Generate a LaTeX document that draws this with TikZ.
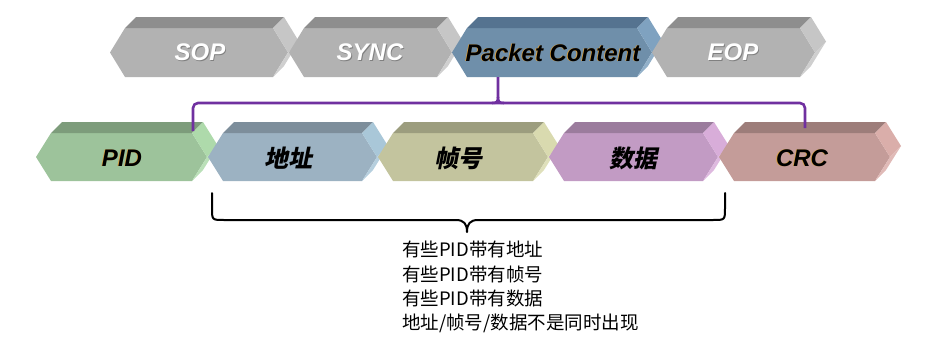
\documentclass[tikz,border=0pt]{standalone}
\usepackage{fontspec}
\setmainfont{Liberation Sans}
\newfontfamily\cjk{Noto Sans CJK SC}
\newfontfamily\cjkbi[FakeSlant=0.2]{Noto Sans CJK SC}
\usetikzlibrary{calc}

\definecolor{grF}{HTML}{B2B2B2}\definecolor{grT}{HTML}{8E8E8E}\definecolor{grS}{HTML}{C6C6C6}
\definecolor{pcF}{HTML}{6F8FAA}\definecolor{pcT}{HTML}{557390}\definecolor{pcS}{HTML}{7FA2C0}
\definecolor{piF}{HTML}{9DC39B}\definecolor{piT}{HTML}{7D9C7B}\definecolor{piS}{HTML}{AEDAAB}
\definecolor{adF}{HTML}{9CB2C2}\definecolor{adT}{HTML}{7D8E9B}\definecolor{adS}{HTML}{A9C7D8}
\definecolor{frF}{HTML}{C3C49E}\definecolor{frT}{HTML}{9C9D7E}\definecolor{frS}{HTML}{D9DAAF}
\definecolor{daF}{HTML}{C29BC4}\definecolor{daT}{HTML}{9B7C9D}\definecolor{daS}{HTML}{D8ADD9}
\definecolor{crF}{HTML}{C49C99}\definecolor{crT}{HTML}{9D7D7A}\definecolor{crS}{HTML}{DAAEAA}
\definecolor{purp}{HTML}{7030A0}
\definecolor{shOr}{HTML}{D9A040}

% #1 colour prefix, #2 left tip x, #3 right tip x, #4 middle y, #5 half height
\newcommand{\hexblk}[5]{%
  \fill[#1F] (#2,#4) -- ({#2+15},{#4-#5}) -- ({#3-15},{#4-#5}) -- (#3,#4)
     -- ({#3-15},{#4+#5}) -- ({#2+15},{#4+#5}) -- cycle;
  \fill[#1T] ({#2+15},{#4-#5}) -- ({#2+26},{#4-#5-11}) -- ({#3-4},{#4-#5-11})
     -- ({#3-15},{#4-#5}) -- cycle;
  \fill[#1S] ({#3-15},{#4-#5}) -- ({#3-4},{#4-#5-11}) -- ({#3+11},{#4-11})
     -- (#3,#4) -- cycle;
  \fill[#1S!85!white] (#3,#4) -- ({#3+11},{#4-11}) -- ({#3-4},{#4+#5-11})
     -- ({#3-15},{#4+#5}) -- cycle;
}
\newcommand{\wshad}[1]{\makebox[0pt][l]{\kern0.9pt\raisebox{-0.9pt}{\textcolor{black!50}{#1}}}#1}
\newcommand{\kshad}[1]{\makebox[0pt][l]{\kern-0.8pt\raisebox{0.3pt}{\textcolor{shOr}{#1}}}#1}

\begin{document}
\begin{tikzpicture}[x=1pt,y=-1pt,
  lbl/.style={inner sep=0pt, font={\fontsize{24}{24}\selectfont\bfseries\itshape}},
  wl/.style={lbl, text=white},
  kl/.style={lbl, text=black},
  cl/.style={inner sep=0pt, text=black, font={\cjkbi\fontsize{24}{24}\selectfont\bfseries}},
  note/.style={inner sep=0pt, anchor=base west, font={\cjk\fontsize{18.5}{24}\selectfont}},
  purpline/.style={draw=purp, line width=2.6pt},
  bracel/.style={draw=black, line width=2pt, line cap=round, line join=round}]
\useasboundingbox (0,0) rectangle (930,343);

% top row
\hexblk{gr}{110}{288}{52.5}{24.5}
\hexblk{gr}{289}{452}{52.5}{24.5}
\hexblk{pc}{452}{652}{52.5}{24.5}
\hexblk{gr}{652}{815}{52.5}{24.5}
\node[wl] (sop)  at (200,53) {\wshad{SOP}};
\node[wl] (sync) at (370,53) {\wshad{SYNC}};
\node[kl] (pc)   at (553,53) {\kshad{Packet Content}};
\node[wl] (eop)  at (733,53) {\wshad{EOP}};

% bottom row
\hexblk{pi}{36}{207}{157}{24}
\hexblk{ad}{208}{377}{157}{24}
\hexblk{fr}{378}{548}{157}{24}
\hexblk{da}{549}{718}{157}{24}
\hexblk{cr}{719}{890}{157}{24}
\node[kl] (pid)  at (122,158) {\kshad{PID}};
\node[cl] (addr) at (288,158) {地址};
\node[cl] (frm)  at (458,158) {帧号};
\node[cl] (data) at (633,158) {数据};
\node[kl] (crc)  at (802,158) {\kshad{CRC}};

% purple connector
\coordinate (pcbot)  at (498,77);
\coordinate (junc)   at (498,103);
\coordinate (pidtop) at (193,131);
\coordinate (crctop) at (805,128);
\draw[purpline, rounded corners=5pt] (pidtop) |- (junc) -| (crctop);
\draw[purpline] (pcbot) -- ($(junc)+(0,-6)$)
  .. controls ($(junc)+(0,-1)$) and ($(junc)+(-1,0)$) .. ($(junc)+(-6,0)$);
\draw[purpline] ($(junc)+(0,-6)$)
  .. controls ($(junc)+(0,-1)$) and ($(junc)+(1,0)$) .. ($(junc)+(6,0)$);

% brace
\coordinate (bl) at (212,193);
\coordinate (br) at (725,193);
\coordinate (btip) at (467,232);
\draw[bracel] (bl) -- ($(bl)+(0,15)$)
  .. controls ($(bl)+(0,27)$) .. ($(bl)+(12,27)$) -- ($(btip)+(-11,-12)$)
  .. controls ($(btip)+(-3,-12)$) and ($(btip)+(0,-8)$) .. (btip)
  .. controls ($(btip)+(0,-8)$) and ($(btip)+(3,-12)$) .. ($(btip)+(11,-12)$)
  -- ($(br)+(-12,27)$) .. controls ($(br)+(0,27)$) .. ($(br)+(0,15)$) -- (br);

% notes
\node[note] (n1) at (402,256) {有些PID带有地址};
\node[note] (n2) at (402,281) {有些PID带有帧号};
\node[note] (n3) at (402,305) {有些PID带有数据};
\node[note] (n4) at (402,329) {地址/帧号/数据不是同时出现};
\end{tikzpicture}
\end{document}
